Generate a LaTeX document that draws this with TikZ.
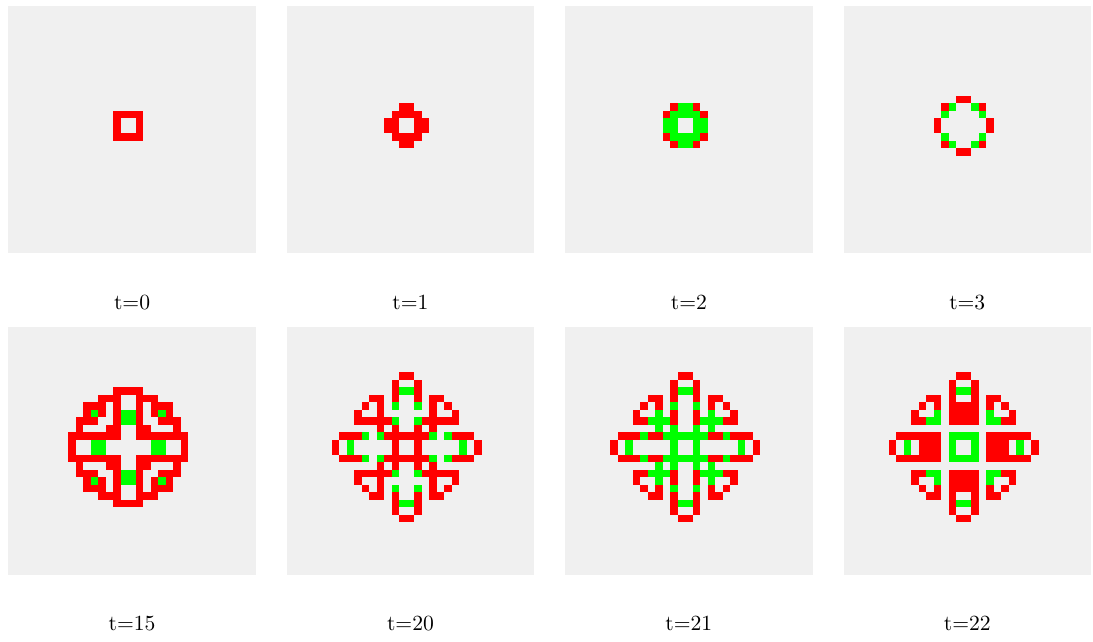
\documentclass[tikz,border=0pt]{standalone}
\definecolor{panelbg}{HTML}{F0F0F0}
\definecolor{cellred}{HTML}{FF0000}
\definecolor{cellgreen}{HTML}{00FF00}
\tikzset{
  panel/.style={fill=panelbg},
  lab/.style={font=\fontsize{10.8}{13}\selectfont, inner sep=0pt},
  cellscope/.style={x=3.75pt, y=-3.75pt}
}
% draw a quadrant list of cells mirrored into all four quadrants
\newcommand\quadcells[2]{%
  \foreach \a/\b in {#2}{%
    \fill[#1] (\a,\b) rectangle ++(1,1);
    \fill[#1] ({-1-\a},\b) rectangle ++(1,1);
    \fill[#1] (\a,{-1-\b}) rectangle ++(1,1);
    \fill[#1] ({-1-\a},{-1-\b}) rectangle ++(1,1);
  }}
\newcommand\panelbox[4]{% name, left, top, label
  \fill[panel] (#2,#3) rectangle ++(247.5,247.5);
  \node[lab] (#1) at ({#2+123.75},{#3+296.5}) {#4};
}
\begin{document}
\begin{tikzpicture}[x=0.5pt, y=-0.5pt]
\useasboundingbox (0,0) rectangle (1093,642);
% ---------- panels and labels ----------
\panelbox{l0}{8.3}{5.8}{t=0}
\panelbox{l1}{286.7}{5.8}{t=1}
\panelbox{l2}{565.1}{5.8}{t=2}
\panelbox{l3}{843.5}{5.8}{t=3}
\panelbox{l15}{8.3}{327.3}{t=15}
\panelbox{l20}{286.7}{327.3}{t=20}
\panelbox{l21}{565.1}{327.3}{t=21}
\panelbox{l22}{843.5}{327.3}{t=22}
% t=0
\begin{scope}[shift={(128.3,125.8)}, cellscope]
  \quadcells{cellred}{-2/-2,-1/-2,-2/-1}
\end{scope}
% t=1
\begin{scope}[shift={(406.7,125.8)}, cellscope]
  \quadcells{cellred}{-1/-3,-2/-2,-1/-2,-3/-1,-2/-1}
\end{scope}
% t=2
\begin{scope}[shift={(685.1,125.8)}, cellscope]
  \quadcells{cellred}{-2/-3,-3/-2}
  \quadcells{cellgreen}{-1/-3,-2/-2,-1/-2,-3/-1,-2/-1}
\end{scope}
% t=3
\begin{scope}[shift={(963.5,125.8)}, cellscope]
  \quadcells{cellred}{-1/-4,-3/-3,-4/-1}
  \quadcells{cellgreen}{-2/-3,-3/-2}
\end{scope}
% t=15
\begin{scope}[shift={(128.3,447.3)}, cellscope]
  \quadcells{cellred}{-2/-8,-1/-8,-4/-7,-3/-7,-2/-7,-6/-6,-5/-6,-4/-6,-2/-6,
    -6/-5,-4/-5,-2/-5,-7/-4,-6/-4,-5/-4,-2/-4,-7/-3,-3/-3,-2/-3,
    -8/-2,-7/-2,-6/-2,-5/-2,-4/-2,-3/-2,-2/-2,-8/-1}
  \quadcells{cellgreen}{-5/-5,-1/-5,-1/-4,-5/-1,-4/-1}
\end{scope}
% t=20
\begin{scope}[shift={(406.7,447.3)}, cellscope]
  \quadcells{cellred}{-1/-10,-2/-9,-2/-8,-5/-7,-4/-7,-2/-7,-6/-6,-4/-6,
    -7/-5,-4/-5,-7/-4,-6/-4,-5/-4,-4/-4,-3/-4,-4/-3,-2/-3,
    -9/-2,-8/-2,-7/-2,-3/-2,-2/-2,-1/-2,-10/-1,-2/-1}
  \quadcells{cellgreen}{-1/-8,-2/-6,-2/-4,-6/-2,-4/-2,-8/-1}
\end{scope}
% t=21
\begin{scope}[shift={(685.1,447.3)}, cellscope]
  \quadcells{cellred}{-1/-10,-2/-9,-2/-8,-5/-7,-4/-7,-2/-7,-6/-6,-4/-6,
    -7/-5,-2/-5,-7/-4,-6/-4,-2/-4,-9/-2,-8/-2,-7/-2,-5/-2,-4/-2,-10/-1}
  \quadcells{cellgreen}{-1/-8,-2/-6,-4/-5,-5/-4,-4/-4,-3/-4,-4/-3,-2/-3,
    -6/-2,-3/-2,-2/-2,-1/-2,-8/-1,-2/-1}
\end{scope}
% t=22
\begin{scope}[shift={(963.5,447.3)}, cellscope]
  \quadcells{cellred}{-1/-10,-2/-9,-2/-8,-5/-7,-4/-7,-2/-7,-6/-6,-4/-6,-2/-6,-1/-6,
    -7/-5,-2/-5,-1/-5,-7/-4,-6/-4,-2/-4,-1/-4,
    -9/-2,-8/-2,-7/-2,-6/-2,-5/-2,-4/-2,-10/-1,-6/-1,-5/-1,-4/-1}
  \quadcells{cellgreen}{-1/-8,-4/-5,-5/-4,-4/-4,-2/-2,-1/-2,-8/-1,-2/-1}
\end{scope}
\end{tikzpicture}
\end{document}
